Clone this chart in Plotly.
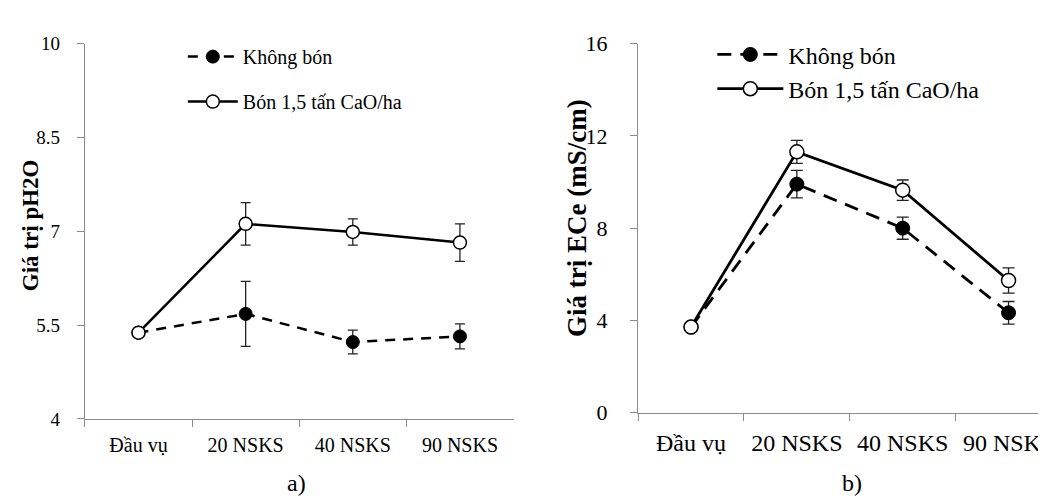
import plotly.graph_objects as go

W, H = 1046, 499

categories = ["Đầu vụ", "20 NSKS", "40 NSKS", "90 NSKS"]
series_names = ["Không bón", "Bón 1,5 tấn CaO/ha"]

# Panel a) pH H2O
ph_khong_bon = [5.38, 5.68, 5.23, 5.32]
ph_khong_bon_err = [0, 0.52, 0.19, 0.20]
ph_bon_cao = [5.38, 7.12, 6.99, 6.82]
ph_bon_cao_err = [0, 0.34, 0.21, 0.30]

# Panel b) ECe (mS/cm)
ece_khong_bon = [3.71, 9.91, 8.00, 4.33]
ece_khong_bon_err = [0, 0.60, 0.48, 0.49]
ece_bon_cao = [3.71, 11.31, 9.65, 5.73]
ece_bon_cao_err = [0, 0.50, 0.44, 0.55]

ph_ticks = [4, 5.5, 7, 8.5, 10]
ece_ticks = [0, 4, 8, 12, 16]

FONT = "Times New Roman"
AX = "#8c8c8c"

def px(x):
    return x / W

def py(y):
    return 1 - y / H

fig = go.Figure()

def add_pair(xa, ya, v1, e1, v2, e2, legend, msize, lw, capw, dash):
    fig.add_trace(go.Scatter(
        x=categories, y=v1, name=series_names[0], xaxis=xa, yaxis=ya,
        mode="lines+markers", legend=legend, legendgroup=legend + "1",
        line=dict(color="black", width=lw, dash=dash),
        marker=dict(symbol="circle", size=msize, color="black",
                    line=dict(color="black", width=1)),
        error_y=dict(type="data", array=e1, visible=True, color="#222222",
                     thickness=1.3, width=capw),
    ))
    fig.add_trace(go.Scatter(
        x=categories, y=v2, name=series_names[1], xaxis=xa, yaxis=ya,
        mode="lines+markers", legend=legend, legendgroup=legend + "2",
        line=dict(color="black", width=lw),
        marker=dict(symbol="circle", size=msize, color="white",
                    line=dict(color="black", width=1.5)),
        error_y=dict(type="data", array=e2, visible=True, color="#222222",
                     thickness=1.3, width=capw),
    ))

add_pair("x", "y", ph_khong_bon, ph_khong_bon_err, ph_bon_cao, ph_bon_cao_err,
         "legend", 13, 2.5, 5, "10px,8px")
add_pair("x2", "y2", ece_khong_bon, ece_khong_bon_err, ece_bon_cao, ece_bon_cao_err,
         "legend2", 14, 2.8, 6, "14px,9px")

common_x = dict(type="category", tickson="boundaries", showline=True,
                linecolor=AX, linewidth=1.2, ticks="outside", tickcolor=AX,
                ticklen=7, tickwidth=1.2, showgrid=False, zeroline=False)
common_y = dict(showline=True, linecolor=AX, linewidth=1.2, ticks="outside",
                tickcolor=AX, ticklen=7, tickwidth=1.2, showgrid=False,
                zeroline=False)

fig.update_layout(
    width=W, height=H,
    margin=dict(l=0, r=0, t=0, b=0),
    paper_bgcolor="white", plot_bgcolor="white",
    font=dict(family=FONT, color="black"),
    showlegend=True,
    xaxis=dict(common_x, domain=[px(77), px(506)], range=[-0.5, 3.5],
               anchor="y", tickfont=dict(size=20, family=FONT),
               ticklabelstandoff=8),
    yaxis=dict(common_y, domain=[py(420), py(25)], range=[4, 10],
               tickvals=ph_ticks, ticktext=[str(t) for t in ph_ticks],
               anchor="x", tickfont=dict(size=19, family=FONT),
               ticklabelstandoff=13),
    xaxis2=dict(common_x, domain=[px(630.7), 1.0], range=[-0.5, 3.42],
                anchor="y2", tickfont=dict(size=24, family=FONT),
                ticklabelstandoff=9),
    yaxis2=dict(common_y, domain=[py(413.3), py(25)], range=[0, 16],
                tickvals=ece_ticks, anchor="x2",
                tickfont=dict(size=22, family=FONT), ticklabelstandoff=18),
    legend=dict(x=px(175), y=py(18), xanchor="left", yanchor="top",
                bgcolor="rgba(0,0,0,0)", borderwidth=0, itemwidth=50,
                font=dict(size=20, family=FONT), tracegroupgap=16,
                traceorder="grouped"),
    legend2=dict(x=px(705), y=py(13), xanchor="left", yanchor="top",
                 bgcolor="rgba(0,0,0,0)", borderwidth=0, itemwidth=66,
                 font=dict(size=24, family=FONT), tracegroupgap=0,
                 traceorder="grouped"),
    annotations=[
        dict(text="<b>Giá trị pH2O</b>", xref="paper", yref="paper",
             x=px(22), y=py(216), xanchor="center", yanchor="middle",
             textangle=-90, showarrow=False,
             font=dict(size=23, family=FONT)),
        dict(text="<b>Giá trị ECe (mS/cm)</b>", xref="paper", yref="paper",
             x=px(569), y=py(208), xanchor="center", yanchor="middle",
             textangle=-90, showarrow=False,
             font=dict(size=27, family=FONT)),
        dict(text="a)", xref="paper", yref="paper", x=px(289), y=py(487),
             xanchor="center", yanchor="middle",
             showarrow=False, font=dict(size=24, family=FONT)),
        dict(text="b)", xref="paper", yref="paper", x=px(845), y=py(487),
             xanchor="center", yanchor="middle",
             showarrow=False, font=dict(size=24, family=FONT)),
    ],
)

fig.write_html("out.html")
